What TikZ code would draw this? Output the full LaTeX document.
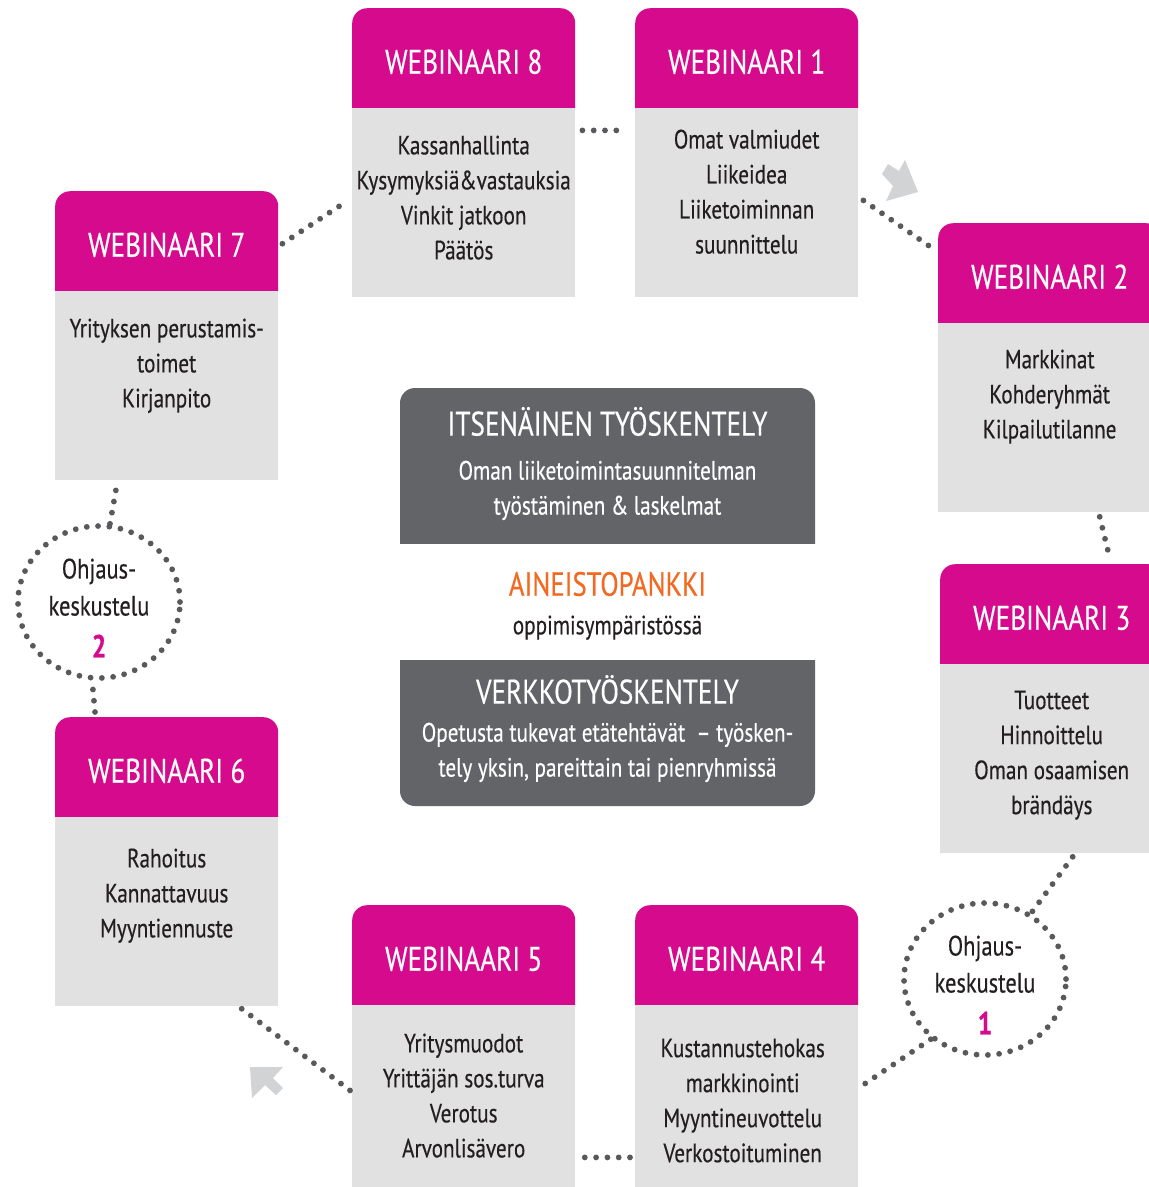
\documentclass[tikz,border=0pt]{standalone}
\usepackage{fontspec}
\setmainfont[FakeStretch=0.8,FakeBold=0.4]{PT Sans}
\usetikzlibrary{shapes.geometric}
\definecolor{mpink}{RGB}{214,10,141}
\definecolor{boxgray}{RGB}{225,225,225}
\definecolor{darkbox}{RGB}{99,100,104}
\definecolor{dotgray}{RGB}{88,89,91}
\definecolor{arrgray}{RGB}{209,211,212}
\definecolor{orng}{RGB}{242,106,33}
\definecolor{txt}{RGB}{35,31,32}
\newcommand{\titlef}{\fontsize{34}{40}\selectfont}
\newcommand{\bodyf}{\fontsize{26.5}{35}\selectfont}
\begin{document}
\begin{tikzpicture}[x=1pt,y=-1pt,
  hdr/.style={minimum width=223, minimum height=99, inner sep=0, text=white, font=\titlef,
    text height=32pt, text depth=0pt, anchor=north west,
    path picture={\fill[mpink, rounded corners=15pt] ([yshift=-30pt]path picture bounding box.south west) rectangle (path picture bounding box.north east);}},
  body/.style={fill=boxgray, minimum width=223, minimum height=189, inner sep=0, anchor=north},
  btext/.style={font=\bodyf, text=txt, align=center, inner sep=0, anchor=north},
  dots/.style={draw=dotgray, line width=5.8pt, line cap=round, dash pattern=on 0pt off 11.3pt},
  ohj/.style={ellipse, minimum width=162, minimum height=152, inner sep=0, dots},
  otext/.style={font=\fontsize{28}{37}\selectfont, text=txt, align=center, inner sep=0},
  dtop/.style={minimum width=415, minimum height=155, inner sep=0,
    path picture={\fill[darkbox, rounded corners=15pt] ([yshift=-30pt]path picture bounding box.south west) rectangle (path picture bounding box.north east);}},
  dbot/.style={minimum width=415, minimum height=146, inner sep=0,
    path picture={\fill[darkbox, rounded corners=15pt] (path picture bounding box.south west) rectangle ([yshift=30pt]path picture bounding box.north east);}},
  ctext/.style={font=\bodyf, text=white, align=center, inner sep=0, anchor=north}
]
\useasboundingbox (0,0) rectangle (1149,1187);
\clip (0,0) rectangle (1149,1187);
\fill[white] (0,0) rectangle (1149,1187);

% ---- webinar boxes ----
\node[hdr] (w8h) at (352,8) {WEBINAARI 8};
\node[body] (w8b) at (w8h.south) {};
\node[btext] (w8t) at ([yshift=-28pt]w8b.north) {Kassanhallinta\\Kysymyksiä\&vastauksia\\Vinkit jatkoon\\Päätös};

\node[hdr] (w1h) at (635,8) {WEBINAARI 1};
\node[body] (w1b) at (w1h.south) {};
\node[btext] (w1t) at ([yshift=-22pt]w1b.north) {Omat valmiudet\\Liikeidea\\Liiketoiminnan\\suunnittelu};

\node[hdr] (w2h) at (938,223) {WEBINAARI 2};
\node[body] (w2b) at (w2h.south) {};
\node[btext] (w2t) at ([yshift=-27pt]w2b.north) {Markkinat\\Kohderyhmät\\Kilpailutilanne};

\node[hdr] (w3h) at (940,564) {WEBINAARI 3};
\node[body] (w3b) at (w3h.south) {};
\node[btext] (w3t) at ([yshift=-27pt]w3b.north) {Tuotteet\\Hinnoittelu\\Oman osaamisen\\brändäys};

\node[hdr] (w4h) at (635,905) {WEBINAARI 4};
\node[body] (w4b) at (w4h.south) {};
\node[btext] (w4t) at ([xshift=-4pt,yshift=-34pt]w4b.north) {Kustannustehokas\\markkinointi\\Myyntineuvottelu\\Verkostoituminen};

\node[hdr] (w5h) at (352,905) {WEBINAARI 5};
\node[body] (w5b) at (w5h.south) {};
\node[btext] (w5t) at ([yshift=-29pt]w5b.north) {Yritysmuodot\\Yrittäjän sos.turva\\Verotus\\Arvonlisävero};

\node[hdr] (w6h) at (55,717) {WEBINAARI 6};
\node[body] (w6b) at (w6h.south) {};
\node[btext] (w6t) at ([yshift=-32pt]w6b.north) {Rahoitus\\Kannattavuus\\Myyntiennuste};

\node[hdr] (w7h) at (55,191) {WEBINAARI 7};
\node[body] (w7b) at (w7h.south) {};
\node[btext] (w7t) at ([yshift=-28pt]w7b.north) {Yrityksen perustamis-\\toimet\\Kirjanpito};

% ---- guidance discussions ----
\node[ohj] (c1) at (985,979) {};
\node[otext] (c1t) at ([yshift=-6pt]c1.center) {Ohjaus-\\keskustelu\\[5pt]{\bfseries\color{mpink}\fontsize{32}{37}\selectfont 1}};
\node[ohj] (c2) at (99,602) {};
\node[otext] (c2t) at ([yshift=-6pt]c2.center) {Ohjaus-\\keskustelu\\[5pt]{\bfseries\color{mpink}\fontsize{32}{37}\selectfont 2}};

% ---- centre ----
\node[dtop] (itop) at (607.5,465.5) {};
\node[ctext] (itopt) at ([yshift=-19pt]itop.north) {{\titlef ITSENÄINEN TYÖSKENTELY}\\[9pt]Oman liiketoimintasuunnitelman\\työstäminen \& laskelmat};
\node[font=\fontsize{33.5}{38}\selectfont, text=orng, inner sep=0] (aine) at (607.5,584) {AINEISTOPANKKI};
\node[font=\fontsize{26.5}{30}\selectfont, text=txt, inner sep=0, anchor=north] (oppi) at ([yshift=-19pt]aine.south) {oppimisympäristössä};
\node[dbot] (ibot) at (607.5,733) {};
\node[ctext] (ibott) at ([yshift=-15pt]ibot.north) {{\titlef VERKKOTYÖSKENTELY}\\[3pt]Opetusta tukevat etätehtävät~ -- työsken-\\tely yksin, pareittain tai pienryhmissä};

% ---- dotted connectors ----
\draw[dots] ([xshift=7pt,yshift=-23pt]w8b.north east) -- ([xshift=-8pt,yshift=-23pt]w1b.north west);
\draw[dots] ([xshift=5pt,yshift=-93pt]w1b.north east) -- ([xshift=-2pt,yshift=22pt]w2h.west);
\draw[dots] ([xshift=50pt,yshift=-5pt]w2b.south) -- ([xshift=58pt,yshift=6pt]w3h.north);
\draw[dots] ([xshift=21pt,yshift=-4pt]w3b.south) -- (c1.55);
\draw[dots] (c1.228) -- ([xshift=4pt,yshift=-81pt]w4b.north east);
\draw[dots] ([xshift=-5pt,yshift=-153pt]w4b.north west) -- ([xshift=5pt,yshift=-153pt]w5b.north east);
\draw[dots] ([xshift=-2pt,yshift=-86pt]w5b.north west) -- ([xshift=-38pt,yshift=-2pt]w6b.south east);
\draw[dots] ([xshift=40pt,yshift=5pt]w6h.north west) -- (c2.265);
\draw[dots] (c2.82) -- ([xshift=62pt,yshift=-4pt]w7b.south west);
\draw[dots] ([xshift=4pt,yshift=-3pt]w7h.east) -- ([xshift=-5pt,yshift=1pt]w8b.west);

% ---- direction arrows ----
\fill[arrgray] (882,174) -- (888,164) -- (899,171) -- (905,160) -- (918,192) -- (886,201) -- (893,186) -- cycle;
\fill[arrgray] (250,1067) -- (283,1067) -- (273,1078) -- (283,1088) -- (276,1095) -- (265,1085) -- (252,1098) -- cycle;
\end{tikzpicture}
\end{document}
